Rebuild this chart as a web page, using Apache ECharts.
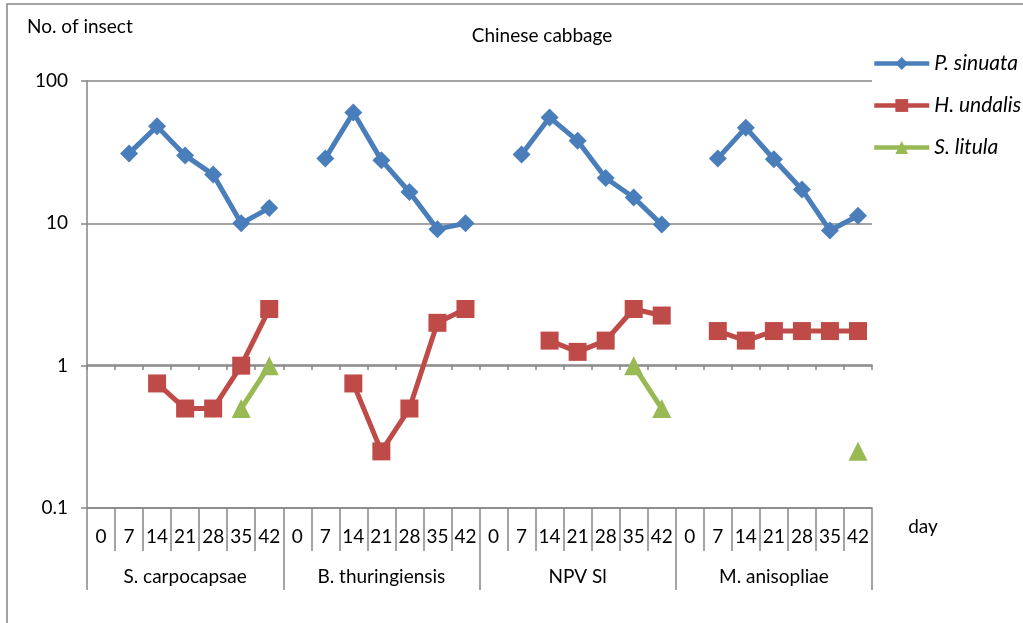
<!DOCTYPE html>
<html>
<head>
<meta charset="utf-8">
<script src="https://cdn.jsdelivr.net/npm/echarts@6/dist/echarts.min.js"></script>
<style>
  html, body { margin: 0; padding: 0; background: #ffffff; }
  #chart { width: 1023px; height: 623px; }
</style>
</head>
<body>
<div id="chart"></div>
<script>
// ---- Data ----
const days = ['0', '7', '14', '21', '28', '35', '42'];
const groups = ['S. carpocapsae', 'B. thuringiensis', 'NPV Sl', 'M. anisopliae'];
const seriesNames = ['P. sinuata', 'H. undalis', 'S. litula'];

// P. sinuata per treatment (days 0..42)
const sinuataSc = [null, 31, 48, 30, 22, 10, 12.8];
const sinuataBt = [null, 28.6, 60, 27.8, 16.6, 9.1, 10];
const sinuataNpv = [null, 30.5, 55.5, 38, 20.8, 15.2, 9.8];
const sinuataMa = [null, 28.6, 47, 28.2, 17.3, 8.9, 11.3];

// H. undalis per treatment
const undalisSc = [null, null, 0.75, 0.5, 0.5, 1, 2.5];
const undalisBt = [null, null, 0.75, 0.25, 0.5, 2, 2.5];
const undalisNpv = [null, null, 1.5, 1.25, 1.5, 2.5, 2.25];
const undalisMa = [null, 1.75, 1.5, 1.75, 1.75, 1.75, 1.75];

// S. litula per treatment
const litulaSc = [null, null, null, null, null, 0.5, 1];
const litulaBt = [null, null, null, null, null, null, null];
const litulaNpv = [null, null, null, null, null, 1, 0.5];
const litulaMa = [null, null, null, null, null, null, 0.25];

const yTicks = [0.1, 1, 10, 100];

// ---- Build ----
const cats = [];
groups.forEach(() => days.forEach(d => cats.push(d)));
const sinuata = [].concat(sinuataSc, sinuataBt, sinuataNpv, sinuataMa);
const undalis = [].concat(undalisSc, undalisBt, undalisNpv, undalisMa);
const litula = [].concat(litulaSc, litulaBt, litulaNpv, litulaMa);

const FONT = 'Lato, "Open Sans", sans-serif';
const FS = 19;
const GRAY = '#868686';
const TXT = '#000000';

const chart = echarts.init(document.getElementById('chart'), null, { renderer: 'canvas' });

function mkSeries(name, data, color, symbol, size) {
  return {
    name: name, type: 'line', data: data, xAxisIndex: 0, yAxisIndex: 0,
    connectNulls: false, symbol: symbol, symbolSize: size,
    lineStyle: { color: color, width: 5 },
    itemStyle: { color: color },
    emphasis: { disabled: true },
    animation: false
  };
}

const option = {
  animation: false,
  textStyle: { fontFamily: FONT },
  grid: [
    { left: 87, right: 151, top: 81, bottom: 115 },
    { left: 87, right: 151, top: 81, bottom: 258 }
  ],
  legend: {
    orient: 'vertical',
    left: 872, top: 53, padding: 0,
    itemWidth: 55, itemHeight: 16, itemGap: 21,
    data: seriesNames,
    lineStyle: { width: 4.5 },
    textStyle: { fontFamily: FONT, fontSize: 21, lineHeight: 16, fontStyle: 'italic', color: TXT, padding: [0, 0, 0, 0] },
    selectedMode: false
  },
  xAxis: [
    {
      type: 'category', gridIndex: 0, data: cats, position: 'bottom',
      boundaryGap: true,
      axisLine: { show: true, lineStyle: { color: GRAY, width: 1.5 } },
      axisTick: { show: true, interval: 0, length: 43, lineStyle: { color: GRAY, width: 1.5 } },
      axisLabel: { interval: 0, margin: 19, fontSize: FS, color: TXT, fontFamily: FONT },
      splitLine: { show: false }
    },
    {
      type: 'category', gridIndex: 0, data: groups, position: 'bottom',
      boundaryGap: true,
      axisLine: { show: false },
      axisTick: { show: true, interval: 0, length: 82, lineStyle: { color: GRAY, width: 1.5 } },
      axisLabel: { interval: 0, margin: 59, fontSize: FS, color: TXT, fontFamily: FONT },
      splitLine: { show: false }
    },
    {
      type: 'category', gridIndex: 1, data: cats, position: 'bottom',
      boundaryGap: true,
      axisLine: { show: true, lineStyle: { color: GRAY, width: 1.5 } },
      axisTick: { show: true, interval: 0, length: 5, lineStyle: { color: GRAY, width: 1.5 } },
      axisLabel: { show: false },
      splitLine: { show: false }
    }
  ],
  yAxis: [
    {
      type: 'log', gridIndex: 0, logBase: 10, min: yTicks[0], max: yTicks[yTicks.length - 1],
      axisLine: { show: true, lineStyle: { color: GRAY, width: 1.5 } },
      axisTick: { show: true, length: 6, lineStyle: { color: GRAY, width: 1.5 } },
      minorTick: { show: false },
      axisLabel: { margin: 19, fontSize: FS, color: TXT, fontFamily: FONT,
        formatter: v => String(+v.toPrecision(3)) },
      splitLine: { show: true, lineStyle: { color: GRAY, width: 1.5 } }
    },
    {
      type: 'value', gridIndex: 1, show: false
    }
  ],
  graphic: [
    { type: 'rect', shape: { x: 7, y: 4, width: 1100, height: 700 },
      style: { fill: null, stroke: GRAY, lineWidth: 1.5 }, z: -1, silent: true },
    { type: 'text', x: 27, y: 27,
      style: { text: 'No. of insect', font: FS + 'px ' + FONT, fill: TXT, textVerticalAlign: 'middle' } },
    { type: 'text', x: 542, y: 36,
      style: { text: 'Chinese cabbage', font: FS + 'px ' + FONT, fill: TXT, textAlign: 'center', textVerticalAlign: 'middle' } },
    { type: 'text', x: 923, y: 527,
      style: { text: 'day', font: FS + 'px ' + FONT, fill: TXT, textAlign: 'center', textVerticalAlign: 'middle' } }
  ],
  series: [
    mkSeries(seriesNames[0], sinuata, '#4A7EBB', 'diamond', 18),
    mkSeries(seriesNames[1], undalis, '#BE4B48', 'rect', 18),
    mkSeries(seriesNames[2], litula, '#98B954', 'triangle', 19)
  ]
};
chart.setOption(option);
</script>
</body>
</html>
